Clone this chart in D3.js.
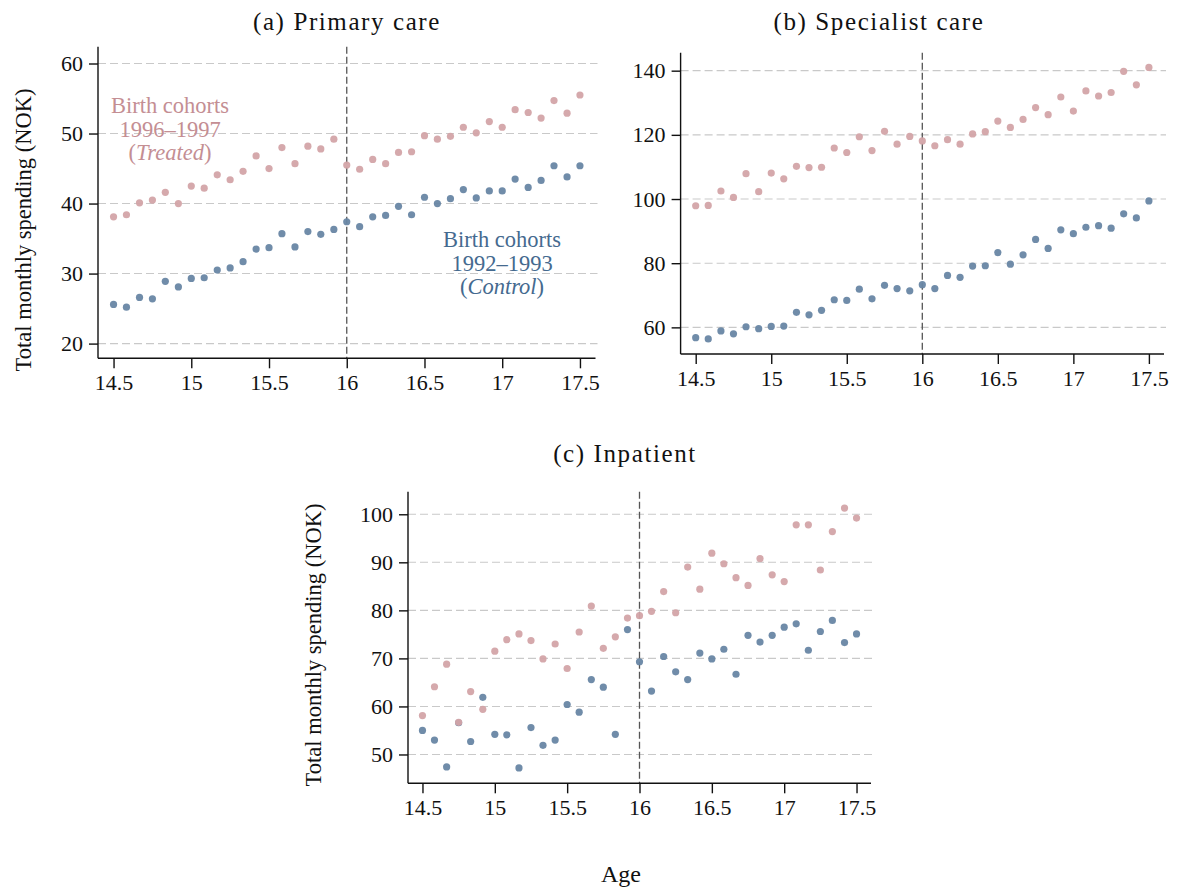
<!DOCTYPE html>
<html>
<head>
<meta charset="utf-8">
<script src="https://cdn.jsdelivr.net/npm/d3@7"></script>
<style>
  body { margin: 0; background: #fff; }
  svg { display: block; }
</style>
</head>
<body>
<div id="chart"></div>
<script>
// Age in years, monthly steps
const ages = [14.5, 14.583, 14.667, 14.75, 14.833, 14.917, 15, 15.083, 15.167, 15.25,
  15.333, 15.417, 15.5, 15.583, 15.667, 15.75, 15.833, 15.917, 16, 16.083,
  16.167, 16.25, 16.333, 16.417, 16.5, 16.583, 16.667, 16.75, 16.833, 16.917,
  17, 17.083, 17.167, 17.25, 17.333, 17.417, 17.5];

// (a) Primary care
const primaryTreated = [38.1, 38.4, 40.1, 40.5, 41.6, 40.0, 42.5, 42.2, 44.1, 43.4,
  44.6, 46.8, 45.0, 48.0, 45.7, 48.2, 47.8, 49.2, 45.5, 44.9,
  46.3, 45.7, 47.3, 47.4, 49.7, 49.2, 49.6, 50.9, 50.1, 51.7,
  50.9, 53.4, 53.0, 52.2, 54.7, 52.9, 55.5];
const primaryControl = [25.6, 25.2, 26.6, 26.4, 28.9, 28.1, 29.3, 29.4, 30.5, 30.8,
  31.7, 33.5, 33.7, 35.7, 33.8, 36.0, 35.6, 36.3, 37.4, 36.7,
  38.1, 38.3, 39.6, 38.4, 40.9, 40.0, 40.7, 42.0, 40.8, 41.8,
  41.8, 43.5, 42.3, 43.3, 45.4, 43.8, 45.4];

// (b) Specialist care
const specialistTreated = [97.9, 98.0, 102.5, 100.5, 107.9, 102.3, 108.1, 106.3, 110.2, 109.8,
  109.9, 115.9, 114.5, 119.4, 115.1, 121.1, 117.1, 119.5, 118.1, 116.6,
  118.5, 117.1, 120.3, 121.0, 124.3, 122.3, 124.8, 128.5, 126.3, 131.8,
  127.4, 133.7, 132.1, 133.2, 139.8, 135.6, 141.0];
const specialistControl = [56.8, 56.4, 58.9, 58.0, 60.2, 59.6, 60.3, 60.4, 64.7, 63.9,
  65.3, 68.6, 68.4, 71.9, 68.9, 73.1, 72.1, 71.4, 73.3, 72.1,
  76.2, 75.6, 79.1, 79.2, 83.3, 79.7, 82.6, 87.4, 84.6, 90.4,
  89.2, 91.2, 91.7, 90.9, 95.4, 94.1, 99.4];

// (c) Inpatient
const inpatientTreated = [58.1, 64.1, 68.8, 56.7, 63.1, 59.4, 71.5, 73.9, 75.1, 73.7,
  69.9, 73.0, 67.9, 75.5, 80.9, 72.1, 74.5, 78.4, 78.9, 79.8,
  83.9, 79.5, 89.0, 84.4, 91.9, 89.7, 86.8, 85.2, 90.8, 87.4,
  86.0, 97.8, 97.8, 88.4, 96.4, 101.3, 99.2];
const inpatientControl = [55.0, 53.0, 47.4, 56.6, 52.7, 61.9, 54.2, 54.1, 47.2, 55.6,
  51.9, 53.0, 60.4, 58.8, 65.6, 64.0, 54.2, 76.0, 69.3, 63.2,
  70.4, 67.2, 65.6, 71.1, 69.9, 71.9, 66.7, 74.8, 73.4, 74.8,
  76.5, 77.2, 71.7, 75.6, 77.9, 73.3, 75.1];

const xTicks = [14.5, 15, 15.5, 16, 16.5, 17, 17.5];
const primaryTicks = [20, 30, 40, 50, 60];
const specialistTicks = [60, 80, 100, 120, 140];
const inpatientTicks = [50, 60, 70, 80, 90, 100];

const cutoff = 16;
const treatedColor = '#d3a4a8';
const controlColor = '#6886a4';
const serif = '"Liberation Serif", "Times New Roman", serif';

const width = 1178, height = 887;
const svg = d3.select('#chart').append('svg')
  .attr('width', width)
  .attr('height', height)
  .attr('font-family', serif);

function panel(opt) {
  const x = d3.scaleLinear().domain([14.4, 17.6]).range([opt.left, opt.right]);
  const y = d3.scaleLinear().domain(opt.yDomain).range([opt.bottom, opt.top]);
  const g = svg.append('g');

  // horizontal grid
  g.selectAll('.grid')
    .data(opt.yTicks)
    .enter().append('line')
    .attr('x1', opt.left).attr('x2', opt.right + 2)
    .attr('y1', d => y(d)).attr('y2', d => y(d))
    .attr('stroke', '#c9c9c9')
    .attr('stroke-width', 1.1)
    .attr('stroke-dasharray', '8,4');

  // cutoff line
  g.append('line')
    .attr('x1', x(cutoff)).attr('x2', x(cutoff))
    .attr('y1', opt.top).attr('y2', opt.bottom)
    .attr('stroke', '#555')
    .attr('stroke-width', 1.3)
    .attr('stroke-dasharray', '7,3');

  // axes
  const xAxis = g.append('g')
    .attr('transform', `translate(0,${opt.bottom})`)
    .call(d3.axisBottom(x).tickValues(xTicks).tickSize(10).tickPadding(6).tickFormat(d3.format('')));
  const yAxis = g.append('g')
    .attr('transform', `translate(${opt.left},0)`)
    .call(d3.axisLeft(y).tickValues(opt.yTicks).tickSize(9).tickPadding(6));
  [xAxis, yAxis].forEach(a => {
    a.attr('font-family', serif).attr('font-size', 22);
    a.select('.domain').attr('stroke', '#111').attr('stroke-width', 1.4);
    a.selectAll('.tick line').attr('stroke', '#111').attr('stroke-width', 1.4);
    a.selectAll('.tick text').attr('fill', '#111');
  });
  xAxis.select('.domain').attr('d', `M${opt.left},0H${opt.right}`);
  yAxis.select('.domain').attr('d', `M0,${opt.top}V${opt.bottom}`);

  // points
  [[opt.control, controlColor], [opt.treated, treatedColor]].forEach(([vals, color]) => {
    g.selectAll(null)
      .data(vals)
      .enter().append('circle')
      .attr('cx', (d, i) => x(ages[i]))
      .attr('cy', d => y(d))
      .attr('r', 3.6)
      .attr('fill', color)
      .attr('fill-opacity', 0.95);
  });

  // title
  svg.append('text')
    .attr('x', opt.titleX).attr('y', opt.titleY)
    .attr('text-anchor', 'middle')
    .attr('font-size', 25)
    .attr('letter-spacing', 1.6)
    .attr('fill', '#111')
    .text(opt.title);

  if (opt.yLabel) {
    svg.append('text')
      .attr('transform', `translate(${opt.yLabel[0]},${opt.yLabel[1]}) rotate(-90)`)
      .attr('text-anchor', 'middle')
      .attr('font-size', 22.5)
      .attr('fill', '#111')
      .text('Total monthly spending (NOK)');
  }
  return { x, y };
}

panel({
  left: 98, right: 595.5, top: 46.7, bottom: 358.3,
  yDomain: [17.9, 62.4], yTicks: primaryTicks,
  treated: primaryTreated, control: primaryControl,
  title: '(a) Primary care', titleX: 347, titleY: 30,
  yLabel: [31, 230]
});

panel({
  left: 680.6, right: 1164, top: 52.7, bottom: 354,
  yDomain: [51.7, 145.6], yTicks: specialistTicks,
  treated: specialistTreated, control: specialistControl,
  title: '(b) Specialist care', titleX: 879, titleY: 30
});

panel({
  left: 408, right: 871, top: 491.7, bottom: 783.3,
  yDomain: [44, 104.7], yTicks: inpatientTicks,
  treated: inpatientTreated, control: inpatientControl,
  title: '(c) Inpatient', titleX: 625, titleY: 462,
  yLabel: [321, 645]
});

// series labels in panel (a), one text per line
function note(cx, y0, color, years, group) {
  const step = 23.5;
  const base = { 'text-anchor': 'middle', 'font-size': 22.5, fill: color };
  const line = (i) => {
    const t = svg.append('text').attr('x', cx).attr('y', y0 + i * step);
    Object.entries(base).forEach(([k, v]) => t.attr(k, v));
    return t;
  };
  line(0).text('Birth cohorts');
  line(1).text(years);
  const t = line(2);
  t.append('tspan').text('(');
  t.append('tspan').attr('font-style', 'italic').text(group);
  t.append('tspan').text(')');
}
note(170, 113, '#c48e93', '1996–1997', 'Treated');
note(502, 247, '#456a8f', '1992–1993', 'Control');

// shared x label
svg.append('text')
  .attr('x', 621).attr('y', 882)
  .attr('text-anchor', 'middle')
  .attr('font-size', 24)
  .attr('fill', '#111')
  .text('Age');
</script>
</body>
</html>
